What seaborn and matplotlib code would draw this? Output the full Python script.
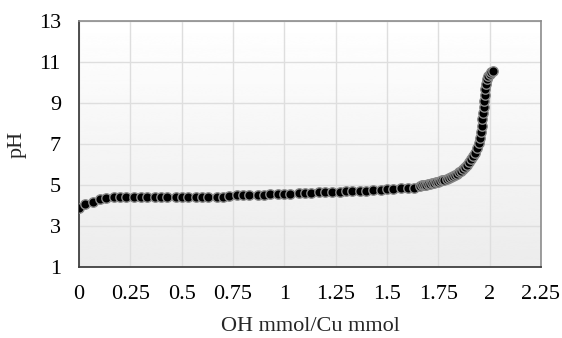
import numpy as np
import pandas as pd
import matplotlib
matplotlib.use("Agg")
import matplotlib.pyplot as plt
import seaborn as sns

ratio = [0.00,0.03,0.07,0.10,0.13,0.17,0.20,0.23,0.27,0.30,0.33,0.37,0.40,0.43,0.47,0.50,
         0.53,0.57,0.60,0.63,0.67,0.70,0.73,0.77,0.80,0.83,0.87,0.90,0.93,0.97,1.00,1.03,
         1.07,1.10,1.13,1.17,1.20,1.23,1.27,1.30,1.33,1.37,1.40,1.43,1.47,1.50,1.53,1.57,
         1.60,1.63,
         1.66,1.67,1.68,1.69,1.70,1.71,1.72,1.73,1.74,1.75,1.76,1.77,1.78,1.79,1.80,1.81,
         1.82,1.83,1.84,1.85,1.86,1.87,1.88,1.89,1.90,1.91,1.92,1.93,1.94,1.95,1.955,1.96,
         1.962,1.965,1.967,1.97,1.972,1.975,1.978,1.982,1.987,1.993,2.00,2.007,2.015]
ph = [3.90,4.07,4.18,4.30,4.38,4.40,4.40,4.40,4.40,4.40,4.40,4.40,4.40,4.40,4.40,4.40,
      4.40,4.40,4.40,4.40,4.41,4.42,4.45,4.50,4.51,4.51,4.52,4.53,4.54,4.55,4.56,4.58,
      4.60,4.62,4.63,4.64,4.66,4.67,4.68,4.69,4.70,4.71,4.72,4.74,4.76,4.80,4.82,4.83,
      4.84,4.84,
      4.95,4.98,5.00,5.02,5.04,5.06,5.08,5.10,5.13,5.16,5.19,5.22,5.26,5.30,5.34,5.38,
      5.43,5.49,5.55,5.62,5.70,5.80,5.90,6.00,6.12,6.25,6.40,6.58,6.80,7.05,7.30,7.60,
      7.90,8.20,8.50,8.80,9.10,9.40,9.70,9.95,10.15,10.30,10.42,10.50,10.56]

x_ticks = [0, 0.25, 0.5, 0.75, 1, 1.25, 1.5, 1.75, 2, 2.25]
x_ticklabels = ["0", "0.25", "0.5", "0.75", "1", "1.25", "1.5", "1.75", "2", "2.25"]
y_ticks = [1, 3, 5, 7, 9, 11, 13]

df = pd.DataFrame({"ratio": ratio, "pH": ph})

sns.set_style("white")
plt.rcParams["font.family"] = ["Liberation Serif", "DejaVu Serif"]

fig = plt.figure(figsize=(5.62, 3.38), dpi=100)
ax = fig.add_axes([79/562, 71/338, 462/562, 246/338])

# background gradient
grad = np.linspace(1.0, 0.925, 256).reshape(-1, 1)
ax.imshow(grad, extent=[0, 1, 0, 1], transform=ax.transAxes, cmap="gray",
          vmin=0, vmax=1, aspect="auto", zorder=0, interpolation="bicubic")

sns.scatterplot(data=df, x="ratio", y="pH", ax=ax, s=46, color="black",
                edgecolor="#8a8a8a", linewidth=1.0, zorder=3)

ax.set_xlim(0, 2.25)
ax.set_ylim(1, 13)
ax.set_xticks(x_ticks)
ax.set_xticklabels(x_ticklabels)
ax.set_yticks(y_ticks)
ax.grid(True, color="#dedede", linewidth=1.0, zorder=1)
ax.set_axisbelow(True)
ax.tick_params(length=0, labelsize=16, colors="black")
ax.tick_params(axis="x", pad=13)
ax.tick_params(axis="y", pad=13)
ax.set_xlabel("OH mmol/Cu mmol", fontsize=16, labelpad=9)
ax.set_ylabel("pH", fontsize=16, labelpad=9)

for side in ["top", "right"]:
    ax.spines[side].set_color("#8c8c8c")
    ax.spines[side].set_linewidth(1.2)
for side in ["left", "bottom"]:
    ax.spines[side].set_color("#404040")
    ax.spines[side].set_linewidth(1.3)

fig.savefig("out.png", dpi=100)
